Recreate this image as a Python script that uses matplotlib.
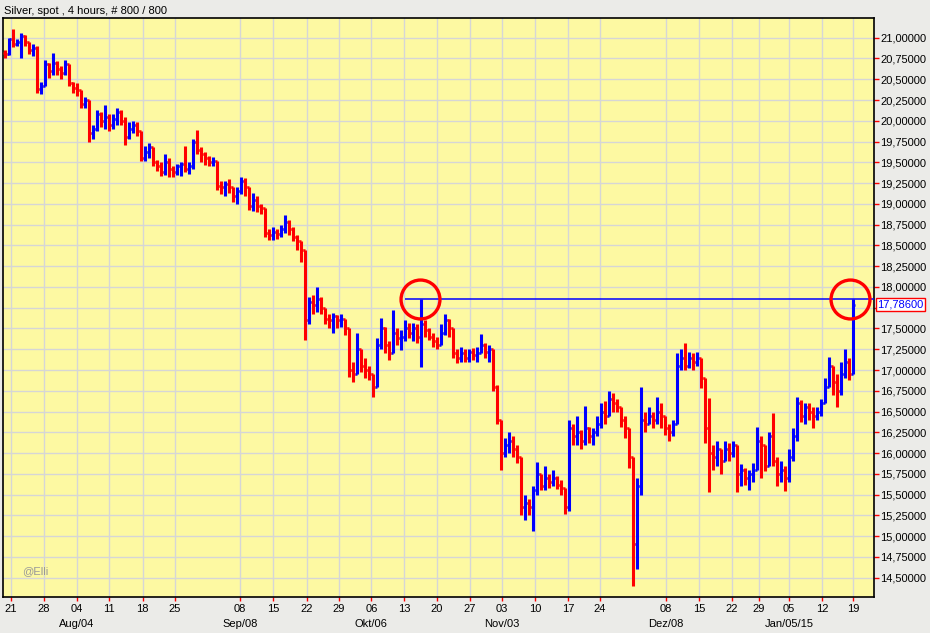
import matplotlib
matplotlib.use("Agg")
import matplotlib.pyplot as plt
import matplotlib.transforms as mtransforms
import numpy as np

# Silver spot, 12h-resampled OHLC (open = previous close)
first_open = 20.82
close = [
    20.80, 20.98, 20.93, 20.95, 21.02, 20.95, 20.85, 20.88, 20.38, 20.42,
    20.68, 20.60, 20.70, 20.62, 20.58, 20.68, 20.45, 20.40, 20.37, 20.20,
    20.25, 19.85, 19.90, 20.08, 20.00, 20.05, 19.95, 20.02, 20.10, 20.00,
    19.80, 19.90, 19.95, 19.88, 19.55, 19.62, 19.68, 19.50, 19.45, 19.38,
    19.50, 19.42, 19.38, 19.45, 19.48, 19.42, 19.45, 19.75, 19.65, 19.60,
    19.55, 19.50, 19.52, 19.22, 19.20, 19.24, 19.20, 19.10, 19.15, 19.28,
    19.20, 18.98, 19.05, 18.98, 18.95, 18.65, 18.62, 18.66, 18.64, 18.70,
    18.78, 18.70, 18.60, 18.55, 18.45, 17.60, 17.82, 17.78, 17.85, 17.75,
    17.62, 17.60, 17.65, 17.60, 17.62, 17.50, 17.00, 16.95, 17.25, 17.05,
    17.00, 16.95, 16.80, 17.30, 17.50, 17.30, 17.20, 17.45, 17.38, 17.40,
    17.50, 17.45, 17.50, 17.40, 17.55, 17.48, 17.40, 17.35, 17.30, 17.45,
    17.60, 17.50, 17.20, 17.15, 17.20, 17.15, 17.22, 17.18, 17.20, 17.30,
    17.22, 17.25, 16.80, 16.40, 16.00, 16.10, 16.15, 16.05, 15.95, 15.35,
    15.40, 15.35, 15.55, 15.75, 15.60, 15.70, 15.65, 15.70, 15.62, 15.58,
    15.35, 16.30, 16.20, 16.25, 16.15, 16.30, 16.20, 16.25, 16.35, 16.50,
    16.45, 16.65, 16.60, 16.55, 16.40, 16.30, 15.95, 14.90, 15.60, 16.40,
    16.35, 16.45, 16.40, 16.50, 16.45, 16.30, 16.25, 16.35, 17.05, 17.15,
    17.05, 17.15, 17.10, 17.15, 16.90, 16.30, 16.00, 15.95, 16.05, 15.90,
    16.05, 16.00, 16.10, 15.75, 15.80, 15.70, 15.75, 15.80, 16.15, 16.10,
    15.85, 16.20, 15.90, 15.75, 15.80, 15.70, 15.95, 16.20, 16.60, 16.45,
    16.55, 16.50, 16.45, 16.50, 16.60, 16.80, 17.05, 16.85, 16.75, 16.95,
    17.10, 16.95, 17.786,
]
high = [
    20.85, 21.00, 21.11, 20.99, 21.06, 21.03, 20.95, 20.92, 20.90, 20.47,
    20.73, 20.70, 20.81, 20.72, 20.66, 20.73, 20.66, 20.47, 20.45, 20.35,
    20.29, 20.25, 19.95, 20.13, 20.10, 20.19, 20.08, 20.08, 20.15, 20.13,
    20.05, 19.98, 20.00, 19.98, 19.88, 19.70, 19.73, 19.62, 19.53, 19.50,
    19.60, 19.55, 19.45, 19.48, 19.50, 19.70, 19.50, 19.78, 19.89, 19.68,
    19.62, 19.57, 19.56, 19.50, 19.27, 19.28, 19.30, 19.20, 19.20, 19.32,
    19.31, 19.20, 19.13, 19.10, 19.00, 18.95, 18.70, 18.72, 18.70, 18.74,
    18.87, 18.80, 18.72, 18.62, 18.55, 18.45, 17.88, 17.90, 18.00, 17.88,
    17.75, 17.68, 17.69, 17.66, 17.68, 17.62, 17.50, 17.10, 17.44, 17.20,
    17.15, 17.05, 16.95, 17.38, 17.63, 17.52, 17.35, 17.72, 17.50, 17.48,
    17.60, 17.56, 17.56, 17.55, 17.85, 17.60, 17.50, 17.45, 17.40, 17.55,
    17.68, 17.62, 17.50, 17.25, 17.28, 17.25, 17.25, 17.26, 17.28, 17.43,
    17.32, 17.30, 17.25, 16.82, 16.40, 16.18, 16.26, 16.20, 16.10, 15.95,
    15.50, 15.45, 15.60, 15.89, 15.75, 15.85, 15.75, 15.80, 15.72, 15.68,
    15.58, 16.40, 16.35, 16.45, 16.28, 16.57, 16.32, 16.30, 16.45, 16.60,
    16.63, 16.75, 16.72, 16.65, 16.55, 16.45, 16.30, 15.95, 15.70, 16.80,
    16.50, 16.55, 16.50, 16.67, 16.60, 16.45, 16.35, 16.40, 17.21, 17.25,
    17.33, 17.22, 17.20, 17.22, 17.12, 16.90, 16.66, 16.10, 16.15, 16.05,
    16.15, 16.12, 16.15, 16.10, 15.87, 15.82, 15.80, 15.88, 16.31, 16.20,
    16.10, 16.25, 16.48, 15.95, 15.90, 15.85, 16.05, 16.30, 16.68, 16.64,
    16.60, 16.60, 16.55, 16.55, 16.65, 16.90, 17.16, 17.05, 16.95, 17.10,
    17.25, 17.15, 17.85,
]
low = [
    20.76, 20.79, 20.89, 20.90, 20.76, 20.90, 20.80, 20.78, 20.33, 20.32,
    20.42, 20.52, 20.55, 20.55, 20.50, 20.55, 20.42, 20.33, 20.30, 20.15,
    20.15, 19.75, 19.78, 19.88, 19.92, 19.90, 19.88, 19.90, 19.95, 19.95,
    19.71, 19.78, 19.85, 19.82, 19.51, 19.52, 19.55, 19.45, 19.40, 19.33,
    19.35, 19.32, 19.32, 19.35, 19.34, 19.38, 19.36, 19.42, 19.60, 19.50,
    19.47, 19.45, 19.45, 19.17, 19.12, 19.10, 19.13, 19.02, 19.00, 19.12,
    19.10, 18.93, 18.92, 18.90, 18.88, 18.60, 18.56, 18.57, 18.58, 18.60,
    18.65, 18.62, 18.55, 18.44, 18.30, 17.36, 17.55, 17.68, 17.70, 17.68,
    17.55, 17.50, 17.45, 17.50, 17.52, 17.42, 16.92, 16.85, 16.95, 16.98,
    16.90, 16.88, 16.67, 16.80, 17.25, 17.20, 17.12, 17.20, 17.30, 17.24,
    17.35, 17.38, 17.35, 17.33, 17.04, 17.40, 17.36, 17.28, 17.25, 17.30,
    17.42, 17.40, 17.15, 17.09, 17.10, 17.10, 17.10, 17.12, 17.10, 17.20,
    17.15, 17.10, 16.75, 16.35, 15.80, 15.95, 16.00, 15.95, 15.88, 15.25,
    15.20, 15.25, 15.06, 15.50, 15.55, 15.55, 15.58, 15.60, 15.57, 15.50,
    15.27, 15.30, 16.10, 16.10, 16.05, 16.10, 16.12, 16.10, 16.20, 16.30,
    16.35, 16.45, 16.50, 16.50, 16.32, 16.18, 15.82, 14.40, 14.60, 15.50,
    16.25, 16.35, 16.30, 16.35, 16.30, 16.22, 16.15, 16.20, 16.35, 17.00,
    17.00, 17.02, 17.00, 17.05, 16.78, 16.12, 15.53, 15.80, 15.85, 15.75,
    15.90, 15.90, 15.95, 15.53, 15.60, 15.62, 15.55, 15.65, 15.95, 15.70,
    15.78, 15.85, 15.85, 15.60, 15.65, 15.54, 15.65, 15.90, 16.15, 16.38,
    16.35, 16.40, 16.30, 16.40, 16.45, 16.60, 16.80, 16.70, 16.55, 16.70,
    16.90, 16.88, 16.95,
]

# Monday labels and the bar where each week starts
tick_labels = ['21', '28', '04', '11', '18', '25', '08', '15', '22', '29',
               '06', '13', '20', '27', '03', '10', '17', '24', '08', '15',
               '22', '29', '05', '12', '19']
tick_bar = [1.5, 9.75, 18, 26.1, 34.4, 42.5, 58.75, 67, 75.4, 83.5,
            91.6, 99.75, 108, 116.25, 124.25, 132.5, 140.75, 148.75, 165.25, 173.5,
            181.75, 188.5, 196, 204.25, 212]
month_labels = ['Aug/04', 'Sep/08', 'Okt/06', 'Nov/03', 'Dez/08', 'Jan/05/15']
month_tick = [2, 6, 10, 14, 18, 22]

prev_high = 17.85      # marked high (horizontal line)
last_price = 17.786
prev_high_bar = 103.75
last_bar = 211.25

plt.rcParams['font.family'] = ['Liberation Sans', 'DejaVu Sans']

c = np.array(close)
h = np.array(high)
l = np.array(low)
o = np.concatenate([[first_open], c[:-1]])
x = np.arange(len(c))
up = c >= o
colors = np.where(up, '#0000ff', '#ff0000')
top = np.maximum(h, np.maximum(o, c))
bot = np.minimum(l, np.minimum(o, c))

fig = plt.figure(figsize=(9.3, 6.33), dpi=100)
fig.patch.set_facecolor('#ebebe8')
ax = fig.add_axes([3 / 930, 36 / 633, 871 / 930, 579 / 633])
ax.set_facecolor('#fdf9a2')

ax.vlines(x, bot, top, colors=colors, lw=2.2, zorder=3)
ax.hlines(o, x - 0.55, x, colors=colors, lw=1.8, zorder=3)
ax.hlines(c, x, x + 0.55, colors=colors, lw=1.8, zorder=3)

ax.set_xlim(-0.5, 217.25)
ax.set_ylim(14.268, 21.237)

ax.set_xticks(tick_bar)
ax.set_xticklabels(tick_labels)
yt = np.arange(14.5, 21.01, 0.25)
ax.set_yticks(yt)
# the 17,75000 label sits under the last-price box, as in the source chart
ax.set_yticklabels(['' if abs(v - 17.75) < 1e-6 else ('%.5f' % v).replace('.', ',') for v in yt])
ax.yaxis.tick_right()
ax.tick_params(axis='both', colors='#ff0000', labelcolor='black', labelsize=8, width=1)
ax.tick_params(axis='y', length=3.6, pad=1)
ax.tick_params(axis='x', length=3, pad=2)
ax.grid(True, color='#d6d6d6', lw=1.0)
ax.set_axisbelow(True)
for s in ax.spines.values():
    s.set_color('black')
    s.set_linewidth(1.2)

trans = mtransforms.blended_transform_factory(ax.transData, ax.transAxes)
for lab, i in zip(month_labels, month_tick):
    ax.text(tick_bar[i], -0.047, lab, transform=trans, ha='center', va='center', fontsize=8)

# marked high, circles and last price box
ax.hlines(prev_high, prev_high_bar - 3.8, 217.25, colors='#0000ff', lw=1.1, zorder=4)
ax.plot([prev_high_bar, last_bar], [prev_high, prev_high], 'o', ms=28, mfc='none',
        mec='#ff0000', mew=2.4, zorder=5)
ytrans = mtransforms.blended_transform_factory(ax.transAxes, ax.transData)
ax.text(1.004, last_price, '17,78600', transform=ytrans, ha='left', va='center',
        color='#0000ff', fontsize=8, zorder=6,
        bbox=dict(boxstyle='square,pad=0.15', fc='white', ec='#ff0000', lw=1))

ax.text(0.022, 0.04, '@Elli', transform=ax.transAxes, color='#999999', fontsize=8)
fig.text(4 / 930, 1 - 11 / 633, 'Silver, spot , 4 hours, # 800 / 800', ha='left', va='center', fontsize=8)

fig.savefig('out.png', dpi=100, facecolor=fig.get_facecolor())
